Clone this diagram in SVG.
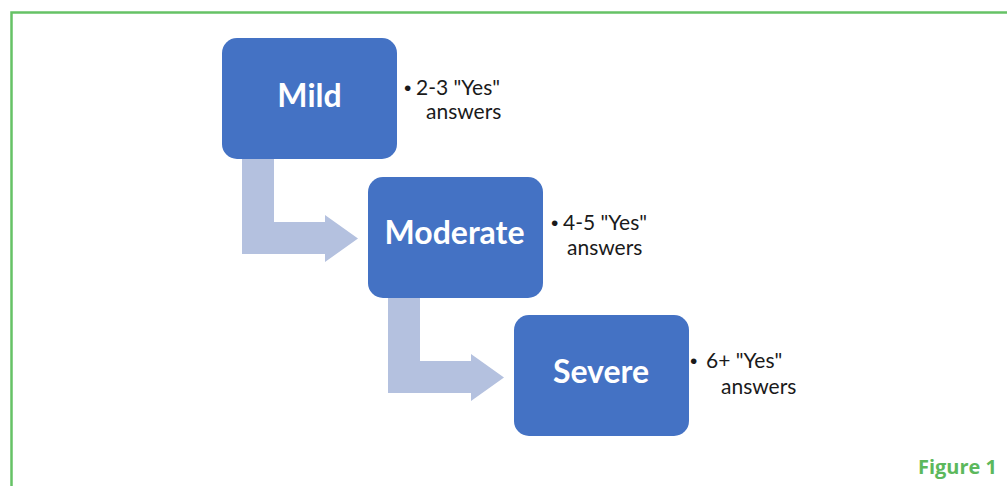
<svg xmlns="http://www.w3.org/2000/svg" width="1007" height="486" viewBox="0 0 1007 486">
<style>
.box{fill:#4472c4;}
.lbl{font-family:Lato,"Open Sans","Liberation Sans",sans-serif;font-weight:bold;font-size:32px;fill:#ffffff;text-anchor:middle;}
.note{font-family:Lato,"Open Sans","Liberation Sans",sans-serif;font-size:21px;fill:#1a1a1a;}
.bul{font-family:"Liberation Sans",sans-serif;font-size:21px;fill:#1a1a1a;}
.arrow{fill:#b4c1df;}
.cap{font-family:"Open Sans","Liberation Sans",sans-serif;font-weight:bold;font-size:20px;fill:#5cb85c;}
</style>
<rect x="0" y="0" width="1007" height="486" fill="#ffffff"/>
<path d="M11.5,486 V12.5 H1007" fill="none" stroke="#66c266" stroke-width="2.5"/>
<g id="connectors">
<polygon class="arrow" points="242,159 274,159 274,222 325,222 325,215 358,238.5 325,262 325,254 242,254"/>
<polygon class="arrow" points="388,298 420,298 420,361 471,361 471,354 504,377.5 471,401 471,393 388,393"/>
</g>
<g id="mild">
<rect class="box" x="222" y="38" width="175" height="121" rx="15"/>
<text class="lbl" x="309.5" y="107">Mild</text>
</g>
<g id="mild-note">
<text class="bul" x="404" y="95">•</text>
<text class="note" x="416" y="95">2-3 "Yes"</text>
<text class="note" x="426" y="119">answers</text>
</g>
<g id="moderate">
<rect class="box" x="368" y="177" width="175" height="121" rx="15"/>
<text class="lbl" x="454.5" y="244">Moderate</text>
</g>
<g id="moderate-note">
<text class="bul" x="551" y="230">•</text>
<text class="note" x="563" y="230">4-5 "Yes"</text>
<text class="note" x="567" y="255">answers</text>
</g>
<g id="severe">
<rect class="box" x="514" y="315" width="175" height="121" rx="15"/>
<text class="lbl" x="601" y="383">Severe</text>
</g>
<g id="severe-note">
<text class="bul" x="690" y="368">•</text>
<text class="note" x="706" y="368">6+ "Yes"</text>
<text class="note" x="721" y="394">answers</text>
</g>
<text class="cap" x="997" y="474" text-anchor="end">Figure 1</text>
</svg>
